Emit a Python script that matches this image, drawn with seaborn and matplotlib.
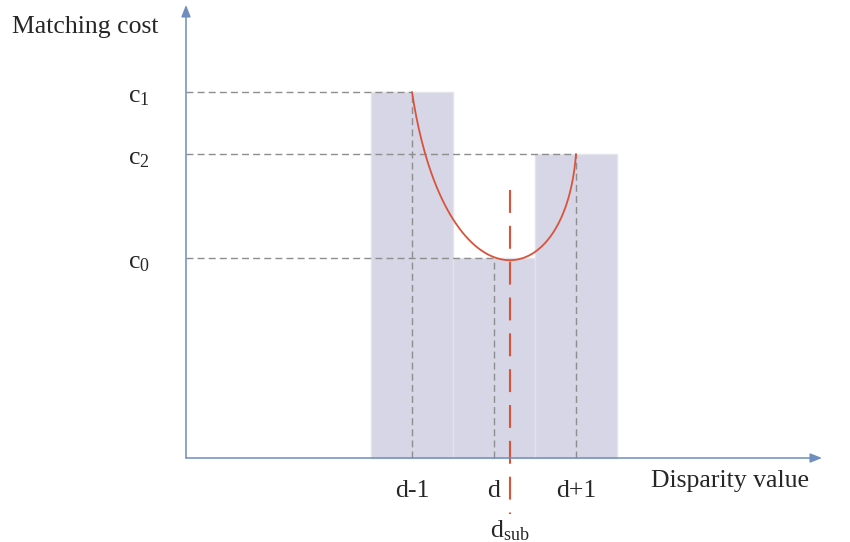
import numpy as np
import pandas as pd
import seaborn as sns
import matplotlib.pyplot as plt

# ---- data ----
disp_labels = ["d-1", "d", "d+1"]
disp_pos = [-1, 0, 1]              # disparity offset relative to d
costs = [3.66, 2.00, 3.04]         # c1, c0, c2
cost_labels = [r"c$\mathregular{_1}$", r"c$\mathregular{_0}$", r"c$\mathregular{_2}$"]
d_sub = 0.195                      # sub-pixel disparity
# inner control points of the drawn fitting curve (ends are the bar tops)
curve_ctrl_x = [-0.598, 0.866]
curve_ctrl_y = [1.48, 1.58]

# ---- style ----
sns.set_theme(style="white")
plt.rcParams['font.family'] = ['Liberation Serif', 'DejaVu Serif']
plt.rcParams['mathtext.fontset'] = 'custom'
plt.rcParams['mathtext.rm'] = 'Liberation Serif'

bar_color = "#d6d6e6"
axis_color = "#6f8dbd"
red = "#d9533b"
grey = "#8e8e8e"
fs = 18.5

fig = plt.figure(figsize=(8.5, 5.42), dpi=100)
ax = fig.add_axes([0, 0, 1, 1])

df = pd.DataFrame({"pos": disp_pos, "cost": costs})
sns.barplot(data=df, x="pos", y="cost", native_scale=True, width=1.0,
            color=bar_color, saturation=1, edgecolor="#e3e3ec", linewidth=1.0,
            errorbar=None, ax=ax, zorder=1)

# pixel-like frame: 82 px per disparity step, 100 px per cost unit
ax.set_xlim(-494 / 82, (850 - 494) / 82)
ax.set_ylim(-0.84, 4.58)

x0 = (186 - 494) / 82      # axis origin
x_tip = (822 - 494) / 82
y_tip = 4.53

# grey guide lines
dash_g = (0, (5, 3))
for p, c in zip(disp_pos, costs):
    ax.plot([x0, p], [c, c], color=grey, lw=1.0, ls=dash_g, zorder=2)
    ax.plot([p, p], [0, c], color=grey, lw=1.0, ls=dash_g, zorder=2)

# fitting curve (cubic Bezier from c1 to c2)
t = np.linspace(0, 1, 200)[:, None]
px = np.array([disp_pos[0], curve_ctrl_x[0], curve_ctrl_x[1], disp_pos[2]])
py = np.array([costs[0], curve_ctrl_y[0], curve_ctrl_y[1], costs[2]])
w = np.hstack([(1 - t) ** 3, 3 * t * (1 - t) ** 2, 3 * t ** 2 * (1 - t), t ** 3])
curve = pd.DataFrame({"x": w @ px, "y": w @ py})
sns.lineplot(data=curve, x="x", y="y", sort=False, color=red, lw=1.3, ax=ax, zorder=4)
ax.set_xlim(-494 / 82, (850 - 494) / 82)
ax.set_ylim(-0.84, 4.58)
ax.set_axis_off()

# sub-pixel disparity line
ax.plot([d_sub, d_sub], [2.68, -0.56], color=red, lw=1.5, ls=(0, (11, 6.2)), zorder=4)

# axes with arrows
arrow = dict(arrowstyle='-|>,head_length=0.5,head_width=0.2', color=axis_color,
             lw=1.1, mutation_scale=14, shrinkA=0, shrinkB=0)
ax.annotate('', xy=(x_tip, 0), xytext=(x0, 0), arrowprops=arrow, zorder=5)
ax.annotate('', xy=(x0, y_tip), xytext=(x0, 0), arrowprops=arrow, zorder=5)

# texts
ax.text(x0 - 1.23, 4.31, "Matching cost", fontsize=fs, ha='center', va='center')
ax.text(2.88, -0.23, "Disparity value", fontsize=fs, ha='center', va='center')
for lab, c in zip(cost_labels, costs):
    ax.text(-4.33, c - 0.05, lab, fontsize=fs, ha='center', va='center')
for lab, p in zip(disp_labels, disp_pos):
    ax.text(p, -0.33, lab, fontsize=fs, ha='center', va='center')
ax.text(d_sub, -0.73, r"d$\mathregular{_{sub}}$", fontsize=fs, ha='center', va='center')

fig.savefig("out.png", dpi=100)
